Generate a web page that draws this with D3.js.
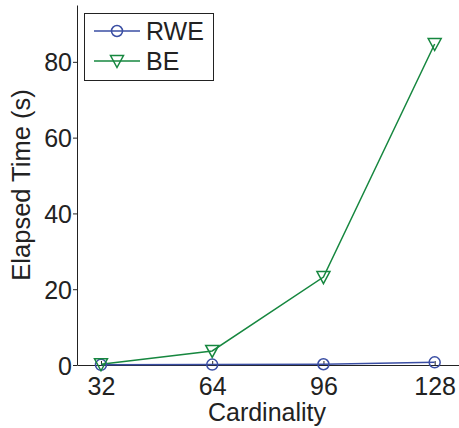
<!DOCTYPE html>
<meta charset="utf-8">
<style>
body { margin: 0; background: #fff; }
text { font-family: "Liberation Sans", Arial, sans-serif; fill: #222; }
.axis path, .axis line { stroke: #222; stroke-width: 1; }
</style>
<svg width="459" height="428"></svg>
<script src="https://d3js.org/d3.v7.min.js"></script>
<script>

var cardinality = [32, 64, 96, 128];
var rwe = [0.05, 0.1, 0.2, 0.7];
var be = [0.2, 3.7, 23.2, 84.7];
var yTicks = [0, 20, 40, 60, 80];
var seriesNames = ["RWE", "BE"];

var blue = "#3a4ea3", green = "#16873f";

var svg = d3.select("svg");
var padL = 77, padR = 459, padT = 5, padB = 365;

var x = d3.scaleLinear().domain([25.1, 135]).range([padL, padR]);
var y = d3.scaleLinear().domain([0, 95]).range([padB, padT]);

var xAxis = svg.append("g").attr("class", "axis")
    .attr("transform", "translate(0," + padB + ")")
    .call(d3.axisBottom(x).tickValues(cardinality).tickSize(-4).tickSizeOuter(0).tickPadding(0));
xAxis.selectAll("text").style("font-size", "25px").attr("y", 30).attr("dy", 0);

var yAxis = svg.append("g").attr("class", "axis")
    .attr("transform", "translate(" + padL + ",0)")
    .call(d3.axisLeft(y).tickValues(yTicks).tickSize(4).tickSizeOuter(0).tickPadding(1));
yAxis.selectAll("text").style("font-size", "25px").attr("dy", "0.36em");

svg.append("text")
    .attr("x", 267).attr("y", 421)
    .attr("text-anchor", "middle")
    .style("font-size", "25px")
    .text("Cardinality");

svg.append("text")
    .attr("transform", "translate(30," + ((padT + padB) / 2) + ") rotate(-90)")
    .attr("text-anchor", "middle")
    .style("font-size", "25.5px")
    .text("Elapsed Time (s)");

var line = d3.line()
    .x(function(d, i) { return x(cardinality[i]); })
    .y(function(d) { return y(d); });

function triangle(g, cx, cy) {
    g.append("path")
        .attr("d", "M" + (cx - 6.5) + "," + (cy - 5.5) + "L" + (cx + 6.5) + "," + (cy - 5.5) + "L" + cx + "," + (cy + 6.5) + "Z")
        .attr("fill", "none").attr("stroke", green).attr("stroke-width", 1.5);
}

svg.append("path").datum(rwe).attr("d", line)
    .attr("fill", "none").attr("stroke", blue).attr("stroke-width", 1.5);
svg.append("path").datum(be).attr("d", line)
    .attr("fill", "none").attr("stroke", green).attr("stroke-width", 1.5);

svg.append("g").selectAll("circle").data(rwe).enter().append("circle")
    .attr("cx", function(d, i) { return x(cardinality[i]); })
    .attr("cy", function(d) { return y(d); })
    .attr("r", 5.5)
    .attr("fill", "none").attr("stroke", blue).attr("stroke-width", 1.5);

var beMarks = svg.append("g");
be.forEach(function(d, i) { triangle(beMarks, x(cardinality[i]), y(d)); });

// legend
var lg = svg.append("g");
lg.append("rect").attr("x", 84.5).attr("y", 13.5).attr("width", 129).attr("height", 67)
    .attr("fill", "#fff").attr("stroke", "#222").attr("stroke-width", 1);
var colors = [blue, green];
seriesNames.forEach(function(name, i) {
    var ly = 31 + i * 30;
    lg.append("line").attr("x1", 94).attr("x2", 140).attr("y1", ly).attr("y2", ly)
        .attr("stroke", colors[i]).attr("stroke-width", 1.5);
    if (i == 0) {
        lg.append("circle").attr("cx", 117).attr("cy", ly).attr("r", 5.5)
            .attr("fill", "none").attr("stroke", blue).attr("stroke-width", 1.5);
    } else {
        triangle(lg, 117, ly);
    }
    lg.append("text").attr("x", 146).attr("y", ly).attr("dy", "0.36em")
        .style("font-size", "25px").text(name);
});

</script>
